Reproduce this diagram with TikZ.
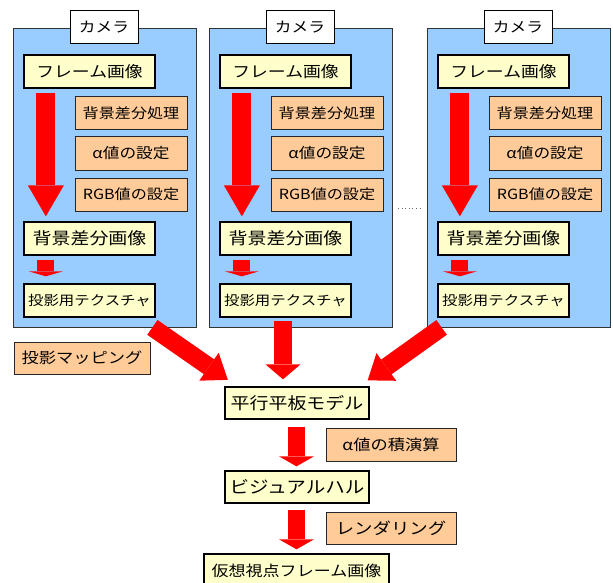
\documentclass[tikz,border=0pt]{standalone}
\usepackage{fontspec}
\setmainfont[FakeStretch=1.15]{Noto Sans CJK JP}
\usetikzlibrary{arrows.meta}
\definecolor{panelblue}{RGB}{153,204,255}
\definecolor{boxyellow}{RGB}{255,255,204}
\definecolor{boxorange}{RGB}{255,204,153}
\definecolor{arrowred}{RGB}{255,0,0}
\newcommand{\fs}[1]{\fontsize{#1}{#1}\selectfont}
\tikzset{
  panel/.style={fill=panelblue, draw=black!80, line width=0.8pt, inner sep=0pt},
  cambox/.style={fill=white, draw=black, line width=1pt, inner sep=0pt, minimum width=68pt, minimum height=33pt, font=\fs{14.5}},
  ybox/.style={fill=boxyellow, draw=black, line width=1.3pt, inner sep=0pt, minimum height=33pt},
  obox/.style={fill=boxorange, draw=black!85, line width=1pt, inner sep=0pt, minimum height=33pt},
  blockarrow/.style n args={3}{draw=arrowred, line width=#1, line cap=butt,
     -{Triangle[width=#2, length=#3, line width=0pt, fill=arrowred, color=arrowred]}},
}
\begin{document}
\begin{tikzpicture}[x=1pt, y=-1pt]
\useasboundingbox (0,0) rectangle (613,583);
\foreach \i/\dx in {1/0,2/196,3/414}{
  \node[panel, minimum width=183pt, minimum height=299pt] (p\i) at (\dx+104.5,177.5) {};
  \node[cambox] (c\i) at (\dx+104,27.5) {カメラ};
  \node[ybox, minimum width=131pt, font=\fs{15.5}] (f\i) at (\dx+89.5,71.5) {フレーム画像};
  \node[obox, minimum width=112pt, font=\fs{14}] (oa\i) at (\dx+131,113.5) {背景差分処理};
  \node[obox, minimum width=112pt, font=\fs{14.5}] (ob\i) at (\dx+131,153.5) {α値の設定};
  \node[obox, minimum width=112pt, font=\fs{14}] (oc\i) at (\dx+131,194.5) {RGB値の設定};
  \node[ybox, minimum width=131pt, font=\fs{16.5}] (b\i) at (\dx+89.5,238.5) {背景差分画像};
  \node[ybox, minimum width=131pt, font=\fs{13.4}] (t\i) at (\dx+89.5,300.5) {投影用テクスチャ};
  \draw[blockarrow={19pt}{36pt}{31pt}] ([xshift=22.5pt,yshift=-4pt]f\i.south west) -- ([xshift=22.5pt,yshift=5pt]b\i.north west);
  \draw[blockarrow={17pt}{34pt}{5pt}] ([xshift=22.5pt,yshift=-4pt]b\i.south west) -- ([xshift=22.5pt,yshift=7pt]t\i.north west);
}
\coordinate (dotsL) at (398,208);
\coordinate (dotsR) at (423,208);
\draw[black!60, line width=0.8pt, dash pattern=on 1pt off 2.6pt] (dotsL) -- (dotsR);

\node[obox, minimum width=136pt, minimum height=32pt, font=\fs{15}] (proj) at (82,358) {投影マッピング};
\node[ybox, minimum width=144pt, minimum height=32pt, font=\fs{16.5}] (model) at (297,403) {平行平板モデル};
\node[obox, minimum width=130pt, font=\fs{15}] (aprod) at (391,444.5) {α値の積演算};
\node[ybox, minimum width=144pt, minimum height=32pt, font=\fs{17}] (hull) at (297,487) {ビジュアルハル};
\node[obox, minimum width=130pt, minimum height=32pt, font=\fs{16}] (render) at (391,528) {レンダリング};
\node[ybox, minimum width=185pt, minimum height=34pt, font=\fs{14.8}] (final) at (296.5,571) {仮想視点フレーム画像};

\draw[blockarrow={18pt}{34pt}{23pt}] ([xshift=-44pt]p1.south east) -- ([xshift=3.5pt,yshift=6.5pt]model.north west);
\draw[blockarrow={18pt}{34pt}{23pt}] ([xshift=15pt]p3.south west) -- ([xshift=-2pt,yshift=6pt]model.north east);
\draw[blockarrow={18pt}{35pt}{15pt}] ([xshift=-2.5pt,yshift=-3pt]t2.south) -- ([xshift=-14pt,yshift=7pt]model.north);
\draw[blockarrow={17pt}{35pt}{10pt}] ([xshift=-0.5pt,yshift=-7pt]model.south) -- ([xshift=-0.5pt,yshift=4pt]hull.north);
\draw[blockarrow={17pt}{35pt}{10pt}] ([xshift=-0.5pt,yshift=-6pt]hull.south) -- ([yshift=4pt]final.north);
\end{tikzpicture}
\end{document}
